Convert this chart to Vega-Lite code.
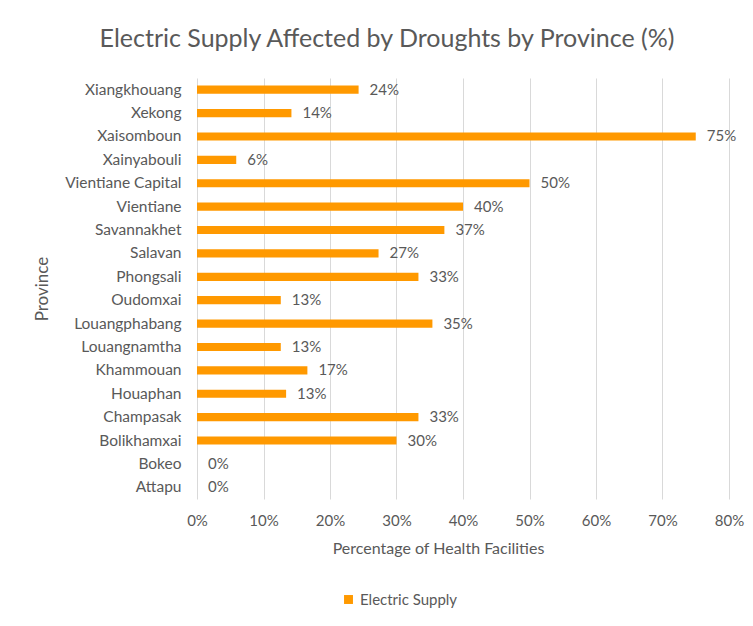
{
  "$schema": "https://vega.github.io/schema/vega-lite/v6.json",
  "width": 532,
  "height": 421,
  "autosize": {"type": "none"},
  "padding": {"left": 197, "top": 78, "right": 24, "bottom": 127},
  "background": "white",
  "title": {
    "text": "Electric Supply Affected by Droughts by Province (%)",
    "font": "Lato",
    "fontSize": 25,
    "fontWeight": "normal",
    "color": "#595959",
    "anchor": "middle",
    "frame": "group",
    "dx": -76,
    "offset": 26
  },
  "data": {
    "values": [
      {"province": "Xiangkhouang", "value": 0.243, "series": "Electric Supply"},
      {"province": "Xekong", "value": 0.142, "series": "Electric Supply"},
      {"province": "Xaisomboun", "value": 0.75, "series": "Electric Supply"},
      {"province": "Xainyabouli", "value": 0.059, "series": "Electric Supply"},
      {"province": "Vientiane Capital", "value": 0.5, "series": "Electric Supply"},
      {"province": "Vientiane", "value": 0.4, "series": "Electric Supply"},
      {"province": "Savannakhet", "value": 0.372, "series": "Electric Supply"},
      {"province": "Salavan", "value": 0.273, "series": "Electric Supply"},
      {"province": "Phongsali", "value": 0.333, "series": "Electric Supply"},
      {"province": "Oudomxai", "value": 0.126, "series": "Electric Supply"},
      {"province": "Louangphabang", "value": 0.354, "series": "Electric Supply"},
      {"province": "Louangnamtha", "value": 0.126, "series": "Electric Supply"},
      {"province": "Khammouan", "value": 0.166, "series": "Electric Supply"},
      {"province": "Houaphan", "value": 0.134, "series": "Electric Supply"},
      {"province": "Champasak", "value": 0.333, "series": "Electric Supply"},
      {"province": "Bolikhamxai", "value": 0.3, "series": "Electric Supply"},
      {"province": "Bokeo", "value": 0, "series": "Electric Supply"},
      {"province": "Attapu", "value": 0, "series": "Electric Supply"}
    ]
  },
  "encoding": {
    "y": {
      "field": "province",
      "type": "nominal",
      "sort": ["Xiangkhouang","Xekong","Xaisomboun","Xainyabouli","Vientiane Capital","Vientiane","Savannakhet","Salavan","Phongsali","Oudomxai","Louangphabang","Louangnamtha","Khammouan","Houaphan","Champasak","Bolikhamxai","Bokeo","Attapu"],
      "scale": {"paddingInner": 0.65, "paddingOuter": 0.325},
      "axis": {
        "title": "Province",
        "domain": false,
        "ticks": false,
        "labelPadding": 16,
        "titlePadding": 13,
        "labelFont": "Lato",
        "labelFontSize": 15.5,
        "labelColor": "#595959",
        "titleFont": "Lato",
        "titleFontSize": 17,
        "titleFontWeight": "normal",
        "titleColor": "#595959"
      }
    },
    "x": {
      "field": "value",
      "type": "quantitative",
      "scale": {"domain": [0, 0.8], "nice": false},
      "axis": {
        "title": "Percentage of Health Facilities",
        "format": ".0%",
        "values": [0, 0.1, 0.2, 0.3, 0.4, 0.5, 0.6, 0.7, 0.8],
        "labelOverlap": false,
        "labelFlush": false,
        "domain": false,
        "ticks": false,
        "grid": true,
        "gridColor": "#d9d9d9",
        "labelPadding": 14,
        "titlePadding": 12,
        "titleX": 241,
        "labelFont": "Lato",
        "labelFontSize": 15,
        "labelColor": "#595959",
        "titleFont": "Lato",
        "titleFontSize": 16,
        "titleFontWeight": "normal",
        "titleColor": "#595959"
      }
    }
  },
  "layer": [
    {
      "mark": {"type": "bar"},
      "encoding": {
        "color": {
          "field": "series",
          "type": "nominal",
          "scale": {"range": ["#FF9900"]},
          "legend": {
            "title": null,
            "orient": "none",
            "legendX": 144,
            "legendY": 514,
            "symbolType": "square",
            "symbolSize": 80,
            "symbolStrokeWidth": 0,
            "labelFont": "Lato",
            "labelFontSize": 15,
            "labelColor": "#595959",
            "labelOffset": 4
          }
        }
      }
    },
    {
      "mark": {"type": "text", "align": "left", "baseline": "middle", "dx": 11, "font": "Lato", "fontSize": 15, "color": "#595959"},
      "encoding": {
        "text": {"field": "value", "type": "quantitative", "format": ".0%"}
      }
    }
  ],
  "config": {
    "view": {"stroke": null},
    "axis": {"gridColor": "#d9d9d9"},
    "axisY": {"grid": false}
  }
}
